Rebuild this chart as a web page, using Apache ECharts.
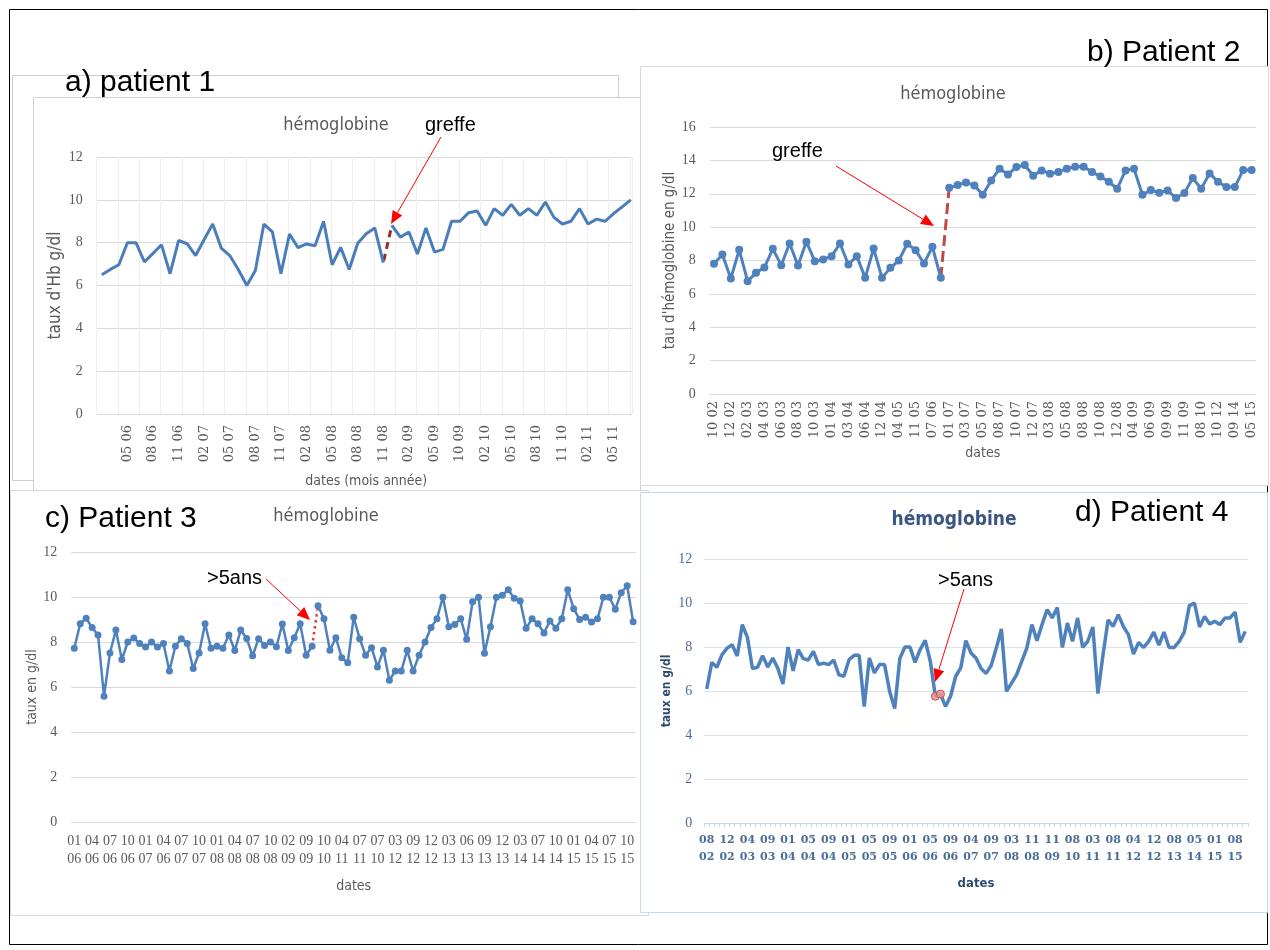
<!DOCTYPE html>
<html><head><meta charset="utf-8">
<script src="https://cdn.jsdelivr.net/npm/echarts/dist/echarts.min.js"></script>
<style>html,body{margin:0;padding:0;background:#fff}#c{width:1270px;height:950px}</style>
</head><body><div id="c"></div>
<script>
// ---------- DATA ----------
// a) patient 1 (monthly values, tick label every 3rd point starting at index 3)
const valuesA = [6.5,6.75,6.97,8.0,8.0,7.1,7.5,7.9,6.55,8.1,7.95,7.4,8.15,8.87,7.75,7.4,6.75,6.0,6.7,8.87,8.5,6.55,8.4,7.77,7.94,7.86,9.0,6.97,7.78,6.75,7.97,8.42,8.69,7.07,8.81,8.26,8.5,7.47,8.69,7.56,7.69,9.0,9.0,9.4,9.48,8.81,9.59,9.28,9.79,9.28,9.59,9.28,9.9,9.18,8.87,9.0,9.59,8.87,9.1,9.0,9.36,9.67,10.0];
const labelsA = ['05 06','08 06','11 06','02 07','05 07','08 07','11 07','02 08','05 08','08 08','11 08','02 09','05 09','10 09','02 10','05 10','08 10','11 10','02 11','05 11'];
const graftA = 33;   // last point before the graft

// b) patient 2 (tick label every 2nd point)
const valuesB = [7.8,8.36,6.92,8.64,6.76,7.26,7.58,8.7,7.72,9.02,7.7,9.12,7.96,8.06,8.26,9.02,7.76,8.26,6.96,8.72,6.96,7.56,8.0,9.0,8.62,7.82,8.82,6.96,
  12.36,12.52,12.68,12.5,11.94,12.8,13.5,13.16,13.6,13.72,13.08,13.4,13.2,13.3,13.5,13.62,13.62,13.3,13.04,12.72,12.3,13.4,13.5,11.94,12.22,12.06,12.2,11.74,12.04,12.94,12.3,13.22,12.72,12.4,12.4,13.42,13.42];
const labelsB = ['10 02','12 02','02 03','04 03','06 03','08 03','10 03','01 04','03 04','06 04','12 04','04 05','11 05','07 06','01 07','03 07','05 07','08 07','10 07','12 07','03 08','05 08','08 08','10 08','12 08','04 09','06 09','09 09','11 09','08 10','10 12','09 14','05 15'];
const graftB = 27;

// c) patient 3 (tick label every 3rd point)
const valuesC = [7.72,8.81,9.06,8.64,8.31,5.59,7.51,8.53,7.22,8.0,8.18,7.93,7.78,8.0,7.78,7.93,6.71,7.81,8.15,7.93,6.82,7.51,8.81,7.72,7.81,7.72,8.31,7.62,8.53,8.16,7.39,8.15,7.85,8.0,7.79,8.8,7.62,8.19,8.81,7.41,7.81,
  9.61,9.03,7.63,8.19,7.3,7.08,
  9.1,8.15,7.41,7.75,6.89,7.63,6.3,6.71,6.71,7.63,6.71,7.41,8.0,8.64,9.03,9.99,8.68,8.78,9.03,8.12,9.79,9.99,7.5,8.68,9.99,10.08,10.32,9.94,9.82,8.61,9.03,8.81,8.4,8.93,8.61,9.03,10.32,9.48,9.0,9.1,8.89,9.03,9.99,9.99,9.46,10.19,10.5,8.9];
const labelsC = ['01 06','04 06','07 06','10 06','01 07','04 06','07 07','10 07','01 08','04 08','07 08','10 08','02 09','09 09','10 10','04 11','07 11','07 10','03 12','09 12','12 12','03 13','06 13','09 13','12 13','03 14','07 14','10 14','01 15','04 15','07 15','10 15'];
const breakC = 40;

// d) patient 4 (tick label every 4th point)
const valuesD = [6.09,7.3,7.08,7.65,7.95,8.1,7.59,9.02,8.44,7.02,7.08,7.6,7.09,7.5,7.02,6.32,8.0,6.92,7.88,7.47,7.41,7.8,7.2,7.27,7.2,7.41,6.74,6.67,7.42,7.62,7.62,5.29,7.5,6.82,7.2,7.2,5.98,5.2,7.47,8.0,8.0,7.3,7.88,8.3,7.35,5.76,5.86,5.3,5.76,6.67,7.05,8.29,7.73,7.5,7.02,
  6.8,7.17,7.95,8.82,5.98,6.36,6.74,7.35,7.95,9.02,8.29,9.02,9.7,9.32,9.8,7.98,9.09,8.26,9.32,7.98,8.26,8.91,5.88,7.65,9.23,8.94,9.47,8.94,8.56,7.68,8.21,7.98,8.26,8.68,8.08,8.68,7.98,7.98,8.26,8.68,9.88,10.0,8.91,9.39,9.05,9.17,9.02,9.32,9.32,9.59,8.21,8.71];
const labelsD = ['08 02','12 02','04 03','09 03','01 04','05 04','09 04','01 05','05 05','09 05','01 06','05 06','09 06','04 07','09 07','03 08','11 08','11 09','08 10','03 11','08 11','04 12','12 12','08 13','05 14','01 15','08 15'];
const markedD = [45, 46];

// ---------- HELPERS ----------
const SERIF = "'Liberation Serif','DejaVu Serif',serif";
const DSERIF = "'DejaVu Serif',serif";
const COND = "'DejaVu Sans Condensed','Liberation Sans Narrow','DejaVu Sans',sans-serif";
const ARIAL = "'Liberation Sans',Arial,sans-serif";
const GRAY = '#595959';
const BLUE = '#4f81bd';
const idx = arr => arr.map((_, i) => String(i));
const part = (arr, from, to) => arr.map((v, i) => (i >= from && i <= to) ? v : '-');
const twoLine = s => s.replace(' ', '\n');

function arrow(x1, y1, x2, y2) {
  const dx = x2 - x1, dy = y2 - y1, L = Math.hypot(dx, dy), ux = dx / L, uy = dy / L, h = 13, w = 5.5;
  const bx = x2 - ux * h, by = y2 - uy * h;
  return [
    {type: 'line', z: 100, shape: {x1, y1, x2: bx, y2: by}, style: {stroke: '#ff0000', lineWidth: 1}},
    {type: 'polygon', z: 100, shape: {points: [[x2, y2], [bx - uy * w, by + ux * w], [bx + uy * w, by - ux * w]]}, style: {fill: '#ff0000'}}
  ];
}
function txt(text, x, y, size, opts) {
  return Object.assign({type: 'text', z: 100, x, y, style: {text, fontSize: size, fontFamily: ARIAL, fill: '#000', verticalAlign: 'middle', align: 'left'}}, opts || {});
}
function frame(x, y, w, h, stroke, fill) {
  return {type: 'rect', z: -10, shape: {x, y, width: w, height: h}, style: {stroke, fill: fill || 'none', lineWidth: 1}};
}

const yCommon = (grid, max, name, nameGap, nameStyle, labelStyle, splitColor) => ({
  gridIndex: grid, type: 'value', min: 0, max, interval: 2,
  axisLine: {show: false}, axisTick: {show: false},
  axisLabel: Object.assign({fontFamily: SERIF, fontSize: 14, color: GRAY, margin: 14}, labelStyle || {}),
  splitLine: {lineStyle: {color: splitColor || '#d9d9d9', width: 1}},
  name, nameLocation: 'middle', nameGap,
  nameTextStyle: Object.assign({fontFamily: COND, fontSize: 15, color: GRAY}, nameStyle || {})
});

const chart = echarts.init(document.getElementById('c'), null, {renderer: 'canvas'});
chart.setOption({
  animation: false,
  backgroundColor: '#fff',
  title: [
    {text: 'hémoglobine', left: 336, top: 116, textAlign: 'center', padding: 0, textStyle: {fontFamily: COND, fontSize: 18, fontWeight: 'normal', color: GRAY}},
    {text: 'hémoglobine', left: 953, top: 85, textAlign: 'center', padding: 0, textStyle: {fontFamily: COND, fontSize: 18, fontWeight: 'normal', color: GRAY}},
    {text: 'hémoglobine', left: 326, top: 507, textAlign: 'center', padding: 0, textStyle: {fontFamily: COND, fontSize: 18, fontWeight: 'normal', color: GRAY}},
    {text: 'hémoglobine', left: 954, top: 511, textAlign: 'center', padding: 0, textStyle: {fontFamily: COND, fontSize: 19, fontWeight: 'bold', color: '#3a5680'}}
  ],
  grid: [
    {left: 96.7, top: 157, width: 535.3, height: 257},
    {left: 101.8, top: 157, width: 528.9, height: 257},
    {left: 709.8, top: 127, width: 546, height: 267},
    {left: 71.3, top: 552, width: 564.8, height: 270},
    {left: 704.2, top: 559, width: 543.6, height: 264}
  ],
  xAxis: [
    {gridIndex: 0, type: 'value', min: -0.6, max: 62.15, interval: 2.5,
      axisLabel: {show: false}, axisLine: {show: false}, axisTick: {show: false},
      splitLine: {show: true, lineStyle: {color: '#eeeeee', width: 1}}},
    {gridIndex: 1, type: 'category', boundaryGap: false, data: idx(valuesA),
      axisLine: {show: false}, axisTick: {show: false}, splitLine: {show: false},
      axisLabel: {interval: i => i % 3 === 0 && i > 0, rotate: 90, margin: 11,
        formatter: (v, i) => labelsA[i / 3 - 1] || '', fontFamily: DSERIF, fontSize: 13, color: GRAY},
      name: 'dates (mois année)', nameLocation: 'middle', nameGap: 60,
      nameTextStyle: {fontFamily: COND, fontSize: 14, color: GRAY}},
    {gridIndex: 2, type: 'category', boundaryGap: true, data: idx(valuesB),
      axisLine: {show: false}, axisTick: {show: false},
      axisLabel: {interval: 1, rotate: 90, margin: 7,
        formatter: (v, i) => labelsB[i / 2] || '', fontFamily: DSERIF, fontSize: 13, color: GRAY},
      name: 'dates', nameLocation: 'middle', nameGap: 52,
      nameTextStyle: {fontFamily: COND, fontSize: 14, color: GRAY}},
    {gridIndex: 3, type: 'category', boundaryGap: true, data: idx(valuesC),
      axisLine: {show: false}, axisTick: {show: false},
      axisLabel: {interval: 2, margin: 10, lineHeight: 18,
        formatter: (v, i) => twoLine(labelsC[i / 3] || ''), fontFamily: SERIF, fontSize: 14, color: GRAY},
      name: 'dates', nameLocation: 'middle', nameGap: 57,
      nameTextStyle: {fontFamily: COND, fontSize: 14, color: GRAY}},
    {gridIndex: 4, type: 'category', boundaryGap: true, data: idx(valuesD),
      axisLine: {show: true, lineStyle: {color: '#c9d8ec', width: 1}},
      axisTick: {show: true, interval: 0, length: 4, lineStyle: {color: '#c9d8ec'}},
      axisLabel: {interval: 3, margin: 9, lineHeight: 17,
        formatter: (v, i) => twoLine(labelsD[i / 4] || ''), fontFamily: DSERIF, fontSize: 11, fontWeight: 'bold', color: '#4a6d98'},
      name: 'dates', nameLocation: 'middle', nameGap: 54,
      nameTextStyle: {fontFamily: COND, fontSize: 13, fontWeight: 'bold', color: '#2f4a70'}}
  ],
  yAxis: [
    yCommon(0, 12, "taux d'Hb g/dl", 33, {fontSize: 17}),
    {gridIndex: 1, type: 'value', min: 0, max: 12, show: false},
    yCommon(2, 16, "tau d'hémoglobine en g/dl", 31, {fontSize: 15}),
    yCommon(3, 12, 'taux en g/dl', 31, {fontSize: 14}),
    yCommon(4, 12, 'taux en g/dl', 31, {fontSize: 12, fontWeight: 'bold', color: '#2f4a70'},
      {color: '#4a6d98', margin: 12}, '#dae4f1')
  ],
  series: [
    // panel a
    {type: 'line', xAxisIndex: 1, yAxisIndex: 1, data: part(valuesA, 0, graftA), symbol: 'none', z: 3,
      lineStyle: {color: '#4a7ebb', width: 3}},
    {type: 'line', xAxisIndex: 1, yAxisIndex: 1, data: part(valuesA, graftA + 1, valuesA.length - 1), symbol: 'none', z: 3,
      lineStyle: {color: '#4a7ebb', width: 3}},
    {type: 'line', xAxisIndex: 1, yAxisIndex: 1, data: part(valuesA, graftA, graftA + 1), symbol: 'none', z: 2,
      lineStyle: {color: '#9b2d2d', width: 3, type: [7, 5], dashOffset: -2}},
    // panel b
    {type: 'line', xAxisIndex: 2, yAxisIndex: 2, data: part(valuesB, 0, graftB), symbol: 'circle', symbolSize: 8, showAllSymbol: true, z: 3,
      itemStyle: {color: BLUE}, lineStyle: {color: BLUE, width: 3}},
    {type: 'line', xAxisIndex: 2, yAxisIndex: 2, data: part(valuesB, graftB + 1, valuesB.length - 1), symbol: 'circle', symbolSize: 8, showAllSymbol: true, z: 3,
      itemStyle: {color: BLUE}, lineStyle: {color: BLUE, width: 3}},
    {type: 'line', xAxisIndex: 2, yAxisIndex: 2, data: part(valuesB, graftB, graftB + 1), symbol: 'none', z: 2,
      lineStyle: {color: '#be4b48', width: 3, type: [11, 5]}},
    // panel c
    {type: 'line', xAxisIndex: 3, yAxisIndex: 3, data: part(valuesC, 0, breakC), symbol: 'circle', symbolSize: 7, showAllSymbol: true, z: 3,
      itemStyle: {color: BLUE}, lineStyle: {color: BLUE, width: 2.5}},
    {type: 'line', xAxisIndex: 3, yAxisIndex: 3, data: part(valuesC, breakC + 1, valuesC.length - 1), symbol: 'circle', symbolSize: 7, showAllSymbol: true, z: 3,
      itemStyle: {color: BLUE}, lineStyle: {color: BLUE, width: 2.5}},
    {type: 'line', xAxisIndex: 3, yAxisIndex: 3, data: part(valuesC, breakC, breakC + 1), symbol: 'none', z: 2,
      lineStyle: {color: '#d9403a', width: 2.5, type: [2.5, 3.5]}},
    // panel d
    {type: 'line', xAxisIndex: 4, yAxisIndex: 4, symbol: 'none', showAllSymbol: true, z: 3,
      data: valuesD.map((v, i) => markedD.includes(i)
        ? {value: v, symbol: 'circle', symbolSize: 8, itemStyle: {color: 'rgba(232,150,150,0.85)', borderColor: '#c0504d', borderWidth: 1}}
        : {value: v}),
      lineStyle: {color: BLUE, width: 3.5}}
  ],
  graphic: [
    // frames
    frame(9.5, 9.5, 1258, 935, '#000000'),
    frame(12.5, 75.5, 606, 405, '#cfcfcf', '#ffffff'),
    frame(33.5, 97.5, 607, 393, '#d0d0d0', '#ffffff'),
    frame(640.5, 66.5, 628, 419, '#d9d9d9', '#ffffff'),
    frame(10.5, 490.5, 638, 425, '#d9d9d9', '#ffffff'),
    frame(640.5, 492.5, 627, 420, '#c6d9f1', '#ffffff'),
    // panel labels
    txt('a) patient 1', 65, 83, 30),
    txt('b) Patient 2', 1087, 53, 30),
    txt('c) Patient 3', 45, 519, 30),
    txt('d) Patient 4', 1075, 513, 30),
    // annotations
    txt('greffe', 425, 125, 20),
    txt('greffe', 772, 151, 20),
    txt('>5ans', 207, 578, 20),
    txt('>5ans', 938, 580, 20),
    ...arrow(441, 137, 391, 224),
    ...arrow(836, 166, 934, 226),
    ...arrow(266, 579, 310, 620),
    ...arrow(964, 589, 935, 682)
  ]
});
</script>
</body></html>
